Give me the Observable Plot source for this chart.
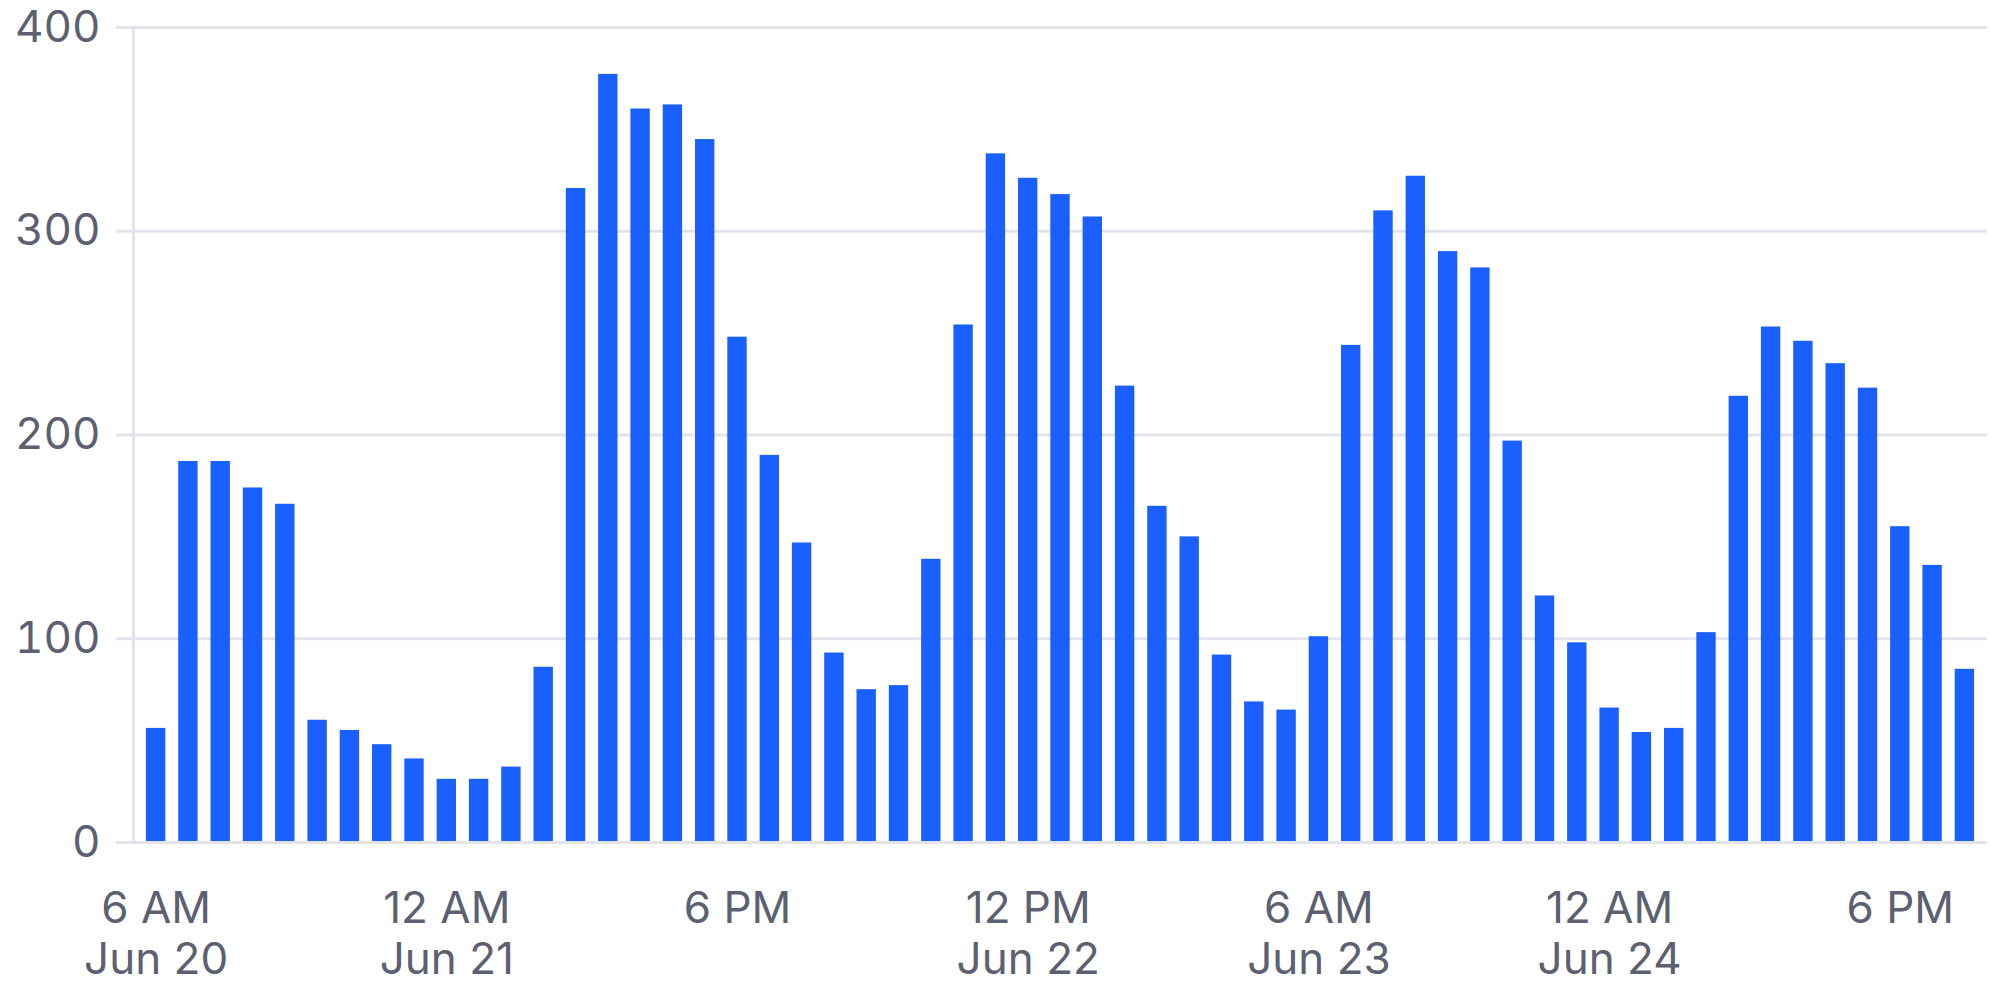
<!DOCTYPE html>
<html>
<head>
<meta charset="utf-8">
<script src="https://cdn.jsdelivr.net/npm/d3@7"></script>
<script src="https://cdn.jsdelivr.net/npm/@observablehq/plot@0.6"></script>
<style>
  html, body { margin: 0; padding: 0; background: #fff; }
  #chart { width: 1990px; height: 981px; }
</style>
</head>
<body>
<div id="chart"></div>
<script>
// Two-hourly counts starting 6 AM Jun 20
const startTime = "2024-06-20T06:00Z";
const stepHours = 2;
const counts = [
  56, 187, 187, 174, 166, 60, 55, 48, 41,
  31, 31, 37, 86, 321, 377, 360, 362, 345,
  248, 190, 147, 93, 75, 77, 139, 254, 338,
  326, 318, 307, 224, 165, 150, 92, 69, 65,
  101, 244, 310, 327, 290, 282, 197, 121, 98,
  66, 54, 56, 103, 219, 253, 246, 235, 223,
  155, 136, 85
];
const yTicks = [0, 100, 200, 300, 400];
const xTickTimes = [
  "2024-06-20T06:00Z", "2024-06-21T00:00Z", "2024-06-21T18:00Z",
  "2024-06-22T12:00Z", "2024-06-23T06:00Z", "2024-06-24T00:00Z",
  "2024-06-24T18:00Z"
];
const xTickLabels = [
  "6 AM\nJun 20", "12 AM\nJun 21", "6 PM", "12 PM\nJun 22",
  "6 AM\nJun 23", "12 AM\nJun 24", "6 PM"
];

const fmt = d3.utcFormat("%Y-%m-%dT%H:%MZ");
const t0 = new Date(startTime);
const times = counts.map((_, i) => fmt(d3.utcHour.offset(t0, i * stepHours)));
const data = counts.map((c, i) => ({time: times[i], count: c}));
const labelMap = new Map(xTickTimes.map((t, i) => [t, xTickLabels[i]]));

const gridColor = "#e3e3eb";
const textColor = "#5c6070";

const chart = Plot.plot({
  width: 1990,
  height: 981,
  marginTop: 27,
  marginBottom: 139,
  marginLeft: 133,
  marginRight: 3,
  style: {fontFamily: "Inter, sans-serif", background: "white", overflow: "visible"},
  x: {type: "band", domain: times, padding: 0.4, round: false},
  y: {domain: [0, 400]},
  marks: [
    Plot.gridY(yTicks, {stroke: gridColor, strokeOpacity: 1, strokeWidth: 3}),
    Plot.frame({anchor: "left", stroke: gridColor, strokeOpacity: 1, strokeWidth: 3}),
    Plot.barY(data, {x: "time", y: "count", fill: "#1a5fff"}),
    Plot.ruleY([0], {stroke: gridColor, strokeWidth: 3}),
    Plot.axisY({
      ticks: yTicks, tickSize: 17, tickPadding: 16,
      stroke: gridColor, strokeWidth: 3, strokeOpacity: 1,
      fontSize: 44, fill: textColor, label: null
    }),
    Plot.axisX({
      ticks: xTickTimes, tickFormat: d => labelMap.get(d),
      tickSize: 0, tickPadding: 45, fontSize: 44, lineHeight: 1.15,
      fill: textColor, label: null
    })
  ]
});
document.getElementById("chart").appendChild(chart);
</script>
</body>
</html>
